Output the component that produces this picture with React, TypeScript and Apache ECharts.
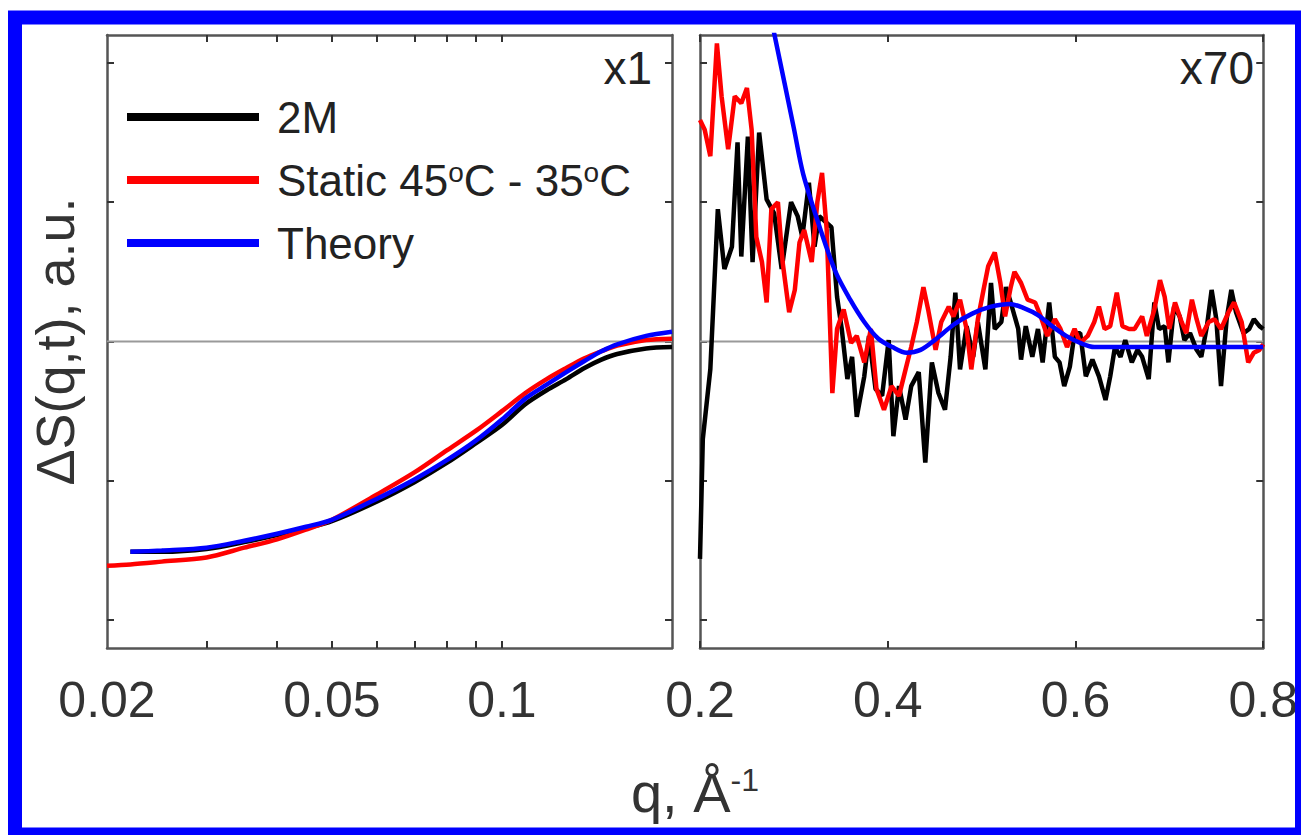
import React, { useEffect, useRef } from 'react';
import * as echarts from 'echarts';

const FONT = 'Liberation Sans, Arial, Helvetica, sans-serif';

// Left panel (log q)
const leftQ = [0.02, 0.022, 0.025, 0.03, 0.035, 0.04, 0.045, 0.05, 0.06, 0.07, 0.08, 0.09, 0.1, 0.11, 0.12, 0.13, 0.14, 0.15, 0.16, 0.18, 0.2];
const leftBlack = [null, -1.51, -1.51, -1.49, -1.44, -1.39, -1.34, -1.29, -1.15, -1.01, -0.87, -0.73, -0.6, -0.45, -0.35, -0.27, -0.19, -0.13, -0.09, -0.05, -0.04];
const leftRed = [-1.61, -1.6, -1.58, -1.55, -1.48, -1.42, -1.35, -1.28, -1.1, -0.94, -0.78, -0.64, -0.5, -0.37, -0.27, -0.19, -0.12, -0.07, -0.03, 0.01, 0.02];
const leftBlue = [null, -1.51, -1.5, -1.48, -1.43, -1.38, -1.33, -1.28, -1.13, -0.99, -0.85, -0.71, -0.56, -0.41, -0.31, -0.22, -0.14, -0.07, -0.02, 0.04, 0.07];

// Right panel (linear q, x70)
const rightBlackQ = [0.200,0.203,0.211,0.219,0.226,0.234,0.240,0.244,0.251,0.256,0.263,0.271,0.279,0.287,0.297,0.304,0.309,0.316,0.322,0.327,0.340,0.346,0.351,0.357,0.362,0.367,0.375,0.380,0.387,0.394,0.401,0.406,0.412,0.419,0.425,0.433,0.440,0.447,0.454,0.461,0.467,0.472,0.477,0.484,0.491,0.496,0.504,0.510,0.514,0.521,0.526,0.531,0.539,0.542,0.547,0.554,0.560,0.565,0.572,0.578,0.583,0.588,0.594,0.599,0.605,0.611,0.618,0.625,0.632,0.637,0.642,0.648,0.653,0.660,0.666,0.671,0.678,0.684,0.689,0.695,0.699,0.705,0.711,0.716,0.722,0.729,0.734,0.740,0.745,0.750,0.755,0.761,0.766,0.771,0.779,0.785,0.790,0.796,0.800];
const rightBlackV = [-1.56,-0.70,-0.20,0.95,0.52,0.68,1.43,0.61,1.47,0.57,1.50,1.02,0.92,0.52,1.00,0.90,0.75,1.14,0.68,0.90,0.82,0.32,0.09,-0.27,-0.11,-0.54,-0.25,0.04,-0.34,-0.39,0.01,-0.68,-0.32,-0.56,-0.32,-0.22,-0.87,-0.15,-0.37,-0.49,-0.11,0.35,-0.20,0.11,-0.11,0.14,-0.20,0.42,0.09,0.14,0.39,0.28,0.09,-0.13,0.11,-0.11,0.09,-0.15,0.28,-0.11,-0.15,-0.32,-0.18,0.06,0.06,-0.25,-0.13,-0.25,-0.42,-0.25,-0.04,-0.11,0.01,-0.15,-0.06,-0.11,-0.27,0.28,0.09,0.11,-0.15,0.25,0.18,0.01,0.06,-0.06,-0.11,0.11,0.37,0.16,-0.32,0.16,0.37,0.21,0.06,0.09,0.16,0.11,0.09];

const rightRedQ = [0.200,0.205,0.211,0.218,0.223,0.230,0.237,0.244,0.250,0.255,0.260,0.266,0.271,0.276,0.283,0.288,0.295,0.301,0.306,0.311,0.319,0.325,0.330,0.335,0.341,0.346,0.353,0.361,0.367,0.375,0.382,0.388,0.396,0.404,0.412,0.419,0.425,0.431,0.438,0.443,0.451,0.457,0.465,0.470,0.477,0.484,0.489,0.496,0.502,0.507,0.514,0.520,0.525,0.531,0.535,0.542,0.549,0.557,0.563,0.570,0.578,0.584,0.591,0.599,0.605,0.613,0.620,0.625,0.631,0.637,0.644,0.650,0.657,0.663,0.671,0.676,0.684,0.690,0.695,0.700,0.706,0.713,0.718,0.724,0.729,0.734,0.742,0.748,0.755,0.763,0.769,0.777,0.784,0.790,0.796,0.800];
const rightRedV = [1.59,1.52,1.33,2.14,1.76,1.38,1.76,1.71,1.82,1.52,0.75,0.57,0.28,0.95,1.00,0.57,0.21,0.37,0.71,0.80,0.57,1.00,1.21,0.80,-0.37,0.09,0.23,-0.01,0.04,-0.15,0.09,-0.34,-0.49,-0.32,-0.39,-0.20,-0.04,0.14,0.39,0.23,-0.06,0.14,0.25,0.18,0.30,0.09,-0.20,0.16,0.37,0.54,0.64,0.42,0.18,0.39,0.50,0.42,0.30,0.28,0.18,0.04,0.16,0.09,-0.04,0.09,-0.01,0.04,0.14,0.25,0.09,0.11,0.35,0.11,0.09,0.09,0.18,0.04,0.23,0.44,0.32,0.09,0.28,0.14,0.06,0.30,0.16,0.04,0.14,0.16,0.09,0.21,0.28,0.14,-0.15,-0.08,-0.06,-0.02];

const rightBlueQ = [0.26, 0.28, 0.30, 0.31, 0.33, 0.345, 0.36, 0.375, 0.39, 0.405, 0.42, 0.435, 0.45, 0.47, 0.49, 0.51, 0.53, 0.545, 0.56, 0.575, 0.59, 0.605, 0.62, 0.65, 0.7, 0.75, 0.8];
const rightBlueV = [2.82, 2.18, 1.53, 1.2, 0.77, 0.49, 0.3, 0.14, 0.02, -0.04, -0.08, -0.06, 0.01, 0.12, 0.2, 0.25, 0.27, 0.24, 0.19, 0.11, 0.04, -0.01, -0.04, -0.04, -0.04, -0.04, -0.04];

const zeroLeftQ = [0.02, 0.2];
const zeroRightQ = [0.2, 0.8];

const leftTickValues = [0.03, 0.04, 0.05, 0.06, 0.07, 0.08, 0.09, 0.1];
const leftLabelValues = [0.02, 0.05, 0.1];
const yTickValues = [-2, -1, 0, 1, 2];

const NAME_BLACK = '2M';
const NAME_RED = 'Static 45°C - 35°C';
const NAME_BLUE = 'Theory';

const zip = (q: number[], v: (number | null)[]) => q.map((x, i) => [x, v[i]]);

const axisLineStyle = { color: '#555', width: 2.5 };
const tickStyle = { color: '#333', width: 2 };

function xAxisCfg(grid: number, type: string, min: number, max: number, pos: string, showLabel: boolean, extra: any = {}) {
  return {
    gridIndex: grid,
    type,
    min,
    max,
    position: pos,
    axisLine: { show: true, onZero: false, lineStyle: axisLineStyle },
    axisTick: { show: true, inside: true, length: 7, lineStyle: tickStyle, ...(extra.tick || {}) },
    axisLabel: {
      show: showLabel,
      fontSize: 50,
      fontFamily: FONT,
      color: '#333',
      margin: 27,
      showMinLabel: true,
      showMaxLabel: true,
      ...(extra.label || {}),
    },
    splitLine: { show: false },
    minorTick: { show: false },
    ...(extra.axis || {}),
  };
}

function yAxisCfg(grid: number, pos: string, name?: string) {
  return {
    gridIndex: grid,
    type: 'value',
    min: -2.2,
    max: 2.2,
    position: pos,
    name: name || '',
    nameLocation: 'middle',
    nameGap: 25,
    nameTextStyle: { fontSize: 54, fontFamily: FONT, color: '#333' },
    axisLine: { show: true, onZero: false, lineStyle: axisLineStyle },
    axisTick: { show: true, inside: true, length: 7, lineStyle: tickStyle, customValues: yTickValues },
    axisLabel: { show: false },
    splitLine: { show: false },
  };
}

const lineSeries = (name: string, color: string, data: any[], xi: number, yi: number, z: number, smooth: number | boolean = false) => ({
  name,
  type: 'line',
  xAxisIndex: xi,
  yAxisIndex: yi,
  data,
  showSymbol: false,
  symbol: 'none',
  connectNulls: false,
  smooth,
  lineStyle: { color, width: 4.5 },
  itemStyle: { color },
  z,
  silent: true,
});

const option: any = {
  animation: false,
  backgroundColor: '#ffffff',
  grid: [
    { left: 107, top: 35, width: 565, height: 613 },
    { left: 700, top: 35, width: 567, height: 613 },
  ],
  xAxis: [
    xAxisCfg(0, 'log', 0.02, 0.2, 'bottom', true, {
      tick: { customValues: leftTickValues },
      label: { customValues: leftLabelValues, formatter: (v: number) => String(v) },
      axis: { logBase: 10 },
    }),
    xAxisCfg(0, 'log', 0.02, 0.2, 'top', false, { tick: { customValues: leftTickValues }, axis: { logBase: 10 } }),
    xAxisCfg(1, 'value', 0.2, 0.8, 'bottom', true, {
      label: { formatter: (v: number) => v.toFixed(1) },
      axis: { interval: 0.2 },
    }),
    xAxisCfg(1, 'value', 0.2, 0.8, 'top', false, { axis: { interval: 0.2 } }),
  ],
  yAxis: [
    yAxisCfg(0, 'left', 'ΔS(q,t), a.u.'),
    yAxisCfg(0, 'right'),
    yAxisCfg(1, 'left'),
    yAxisCfg(1, 'right'),
  ],
  legend: {
    data: [NAME_BLACK, NAME_RED, NAME_BLUE],
    orient: 'vertical',
    left: 122,
    top: 90,
    itemWidth: 132,
    itemHeight: 8,
    itemGap: 19,
    icon: 'rect',
    selectedMode: false,
    formatter: (name: string) => (name === NAME_RED ? 'Static 45{sup|o}C - 35{sup|o}C' : name),
    textStyle: {
      fontSize: 44,
      fontFamily: FONT,
      color: '#222',
      padding: [0, 0, 0, 13],
      rich: {
        sup: { fontSize: 28, fontFamily: FONT, color: '#222', verticalAlign: 'top' },
      },
    },
  },
  series: [
    { ...lineSeries('zeroL', '#9a9a9a', zip(zeroLeftQ, [0, 0]), 0, 0, 1), lineStyle: { color: '#9a9a9a', width: 2 } },
    { ...lineSeries('zeroR', '#9a9a9a', zip(zeroRightQ, [0, 0]), 2, 2, 1), lineStyle: { color: '#9a9a9a', width: 2 } },
    lineSeries(NAME_BLACK, '#000000', zip(leftQ, leftBlack), 0, 0, 2, 0.3),
    lineSeries(NAME_RED, '#ff0000', zip(leftQ, leftRed), 0, 0, 3, 0.3),
    lineSeries(NAME_BLUE, '#0000ff', zip(leftQ, leftBlue), 0, 0, 4, 0.3),
    lineSeries(NAME_BLACK, '#000000', zip(rightBlackQ, rightBlackV), 2, 2, 2),
    lineSeries(NAME_RED, '#ff0000', zip(rightRedQ, rightRedV), 2, 2, 3),
    lineSeries(NAME_BLUE, '#0000ff', zip(rightBlueQ, rightBlueV), 2, 2, 4, 0.3),
  ],
  graphic: [
    {
      type: 'text',
      x: 652,
      y: 45,
      style: { text: 'x1', fontSize: 46, fontFamily: FONT, fill: '#222', align: 'right', verticalAlign: 'top' },
    },
    {
      type: 'text',
      x: 1254,
      y: 45,
      style: { text: 'x70', fontSize: 46, fontFamily: FONT, fill: '#222', align: 'right', verticalAlign: 'top' },
    },
    {
      type: 'text',
      x: 695,
      y: 792,
      style: {
        text: 'q, Å{sup|-1}',
        fontSize: 56,
        fontFamily: FONT,
        fill: '#333',
        align: 'center',
        verticalAlign: 'middle',
        rich: { sup: { fontSize: 32, fontFamily: FONT, fill: '#333', verticalAlign: 'top' } },
      },
    },
    {
      type: 'rect',
      shape: { x: 15, y: 17.5, width: 1287, height: 817 },
      style: { fill: 'none', stroke: '#0000ff', lineWidth: 14 },
      z: 100,
      silent: true,
    },
  ],
};

export default function App() {
  const ref = useRef<HTMLDivElement>(null);
  useEffect(() => {
    if (!ref.current) return;
    const chart = echarts.init(ref.current, null, { renderer: 'svg' });
    chart.setOption(option);
    return () => chart.dispose();
  }, []);
  return (
    <div
      ref={ref}
      style={{ position: 'absolute', left: 0, top: 0, width: 1301, height: 835, background: '#ffffff' }}
    />
  );
}
